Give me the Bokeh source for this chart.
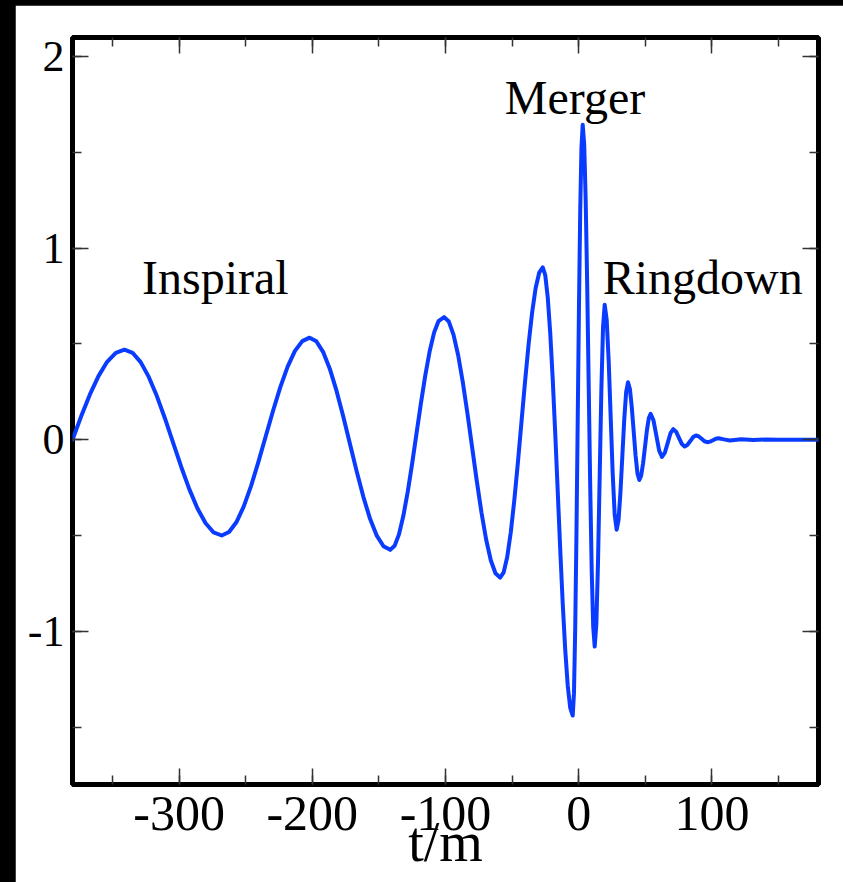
from bokeh.plotting import figure
from bokeh.models import LinearAxis, SingleIntervalTicker, Label, Range1d
from bokeh.layouts import column
from bokeh.embed import file_html
from bokeh.resources import INLINE

# Gravitational-wave strain h(t) of a binary black-hole coalescence, t in units of m
inspiral_t = [-380, -373.5, -367, -360.5, -354, -347.5, -341,
              -334.92, -328.83, -322.75, -316.67, -310.58, -304.5, -298.42, -292.33, -286.25, -280.17, -274.08, -268,
              -262.5, -257, -251.5, -246, -240.5, -235, -229.5, -224, -218.5, -213, -207.5, -202,
              -196.96, -191.92, -186.88, -181.83, -176.79, -171.75, -166.71, -161.67, -156.63, -151.58, -146.54, -141.5,
              -138.21, -134.92, -131.63, -128.33, -125.04, -121.75, -118.46, -115.17, -111.88, -108.58, -105.29, -101,
              -97.5, -94, -90.5, -87, -83.5, -80, -76.5, -73, -69.5, -66, -62.5, -59,
              -56.33, -53.67, -51, -48.33, -45.67, -43, -40.33, -37.67, -35, -32.33, -29.67, -27]
inspiral_h = [0, 0.122, 0.235, 0.332, 0.407, 0.454, 0.47,
              0.454, 0.405, 0.328, 0.228, 0.111, -0.015, -0.141, -0.258, -0.358, -0.435, -0.484, -0.50,
              -0.482, -0.431, -0.349, -0.242, -0.117, 0.017, 0.150, 0.275, 0.382, 0.464, 0.515, 0.533,
              0.514, 0.459, 0.371, 0.256, 0.122, -0.021, -0.164, -0.298, -0.413, -0.501, -0.556, -0.575,
              -0.554, -0.494, -0.397, -0.271, -0.125, 0.033, 0.190, 0.336, 0.462, 0.559, 0.619, 0.64,
              0.617, 0.549, 0.441, 0.30, 0.136, -0.04, -0.216, -0.38, -0.521, -0.629, -0.697, -0.72,
              -0.692, -0.612, -0.483, -0.315, -0.120, 0.09, 0.300, 0.495, 0.663, 0.792, 0.872, 0.90]

merger_t = [-25.125, -23.25, -21.375, -19.5, -17.625, -15.75, -13.875, -12, -10.125, -8.25, -6.375, -4.5,
            -3.56, -2.63, -1.69, -0.75, 0.19, 1.13, 2.06, 3,
            4.125, 5.25, 6.375, 7.5, 8.625, 9.75, 10.875, 12]
merger_h = [0.860, 0.743, 0.557, 0.315, 0.033, -0.27, -0.573, -0.855, -1.097, -1.283, -1.400, -1.44,
            -1.323, -0.988, -0.488, 0.103, 0.693, 1.193, 1.528, 1.645,
            1.541, 1.246, 0.804, 0.283, -0.239, -0.681, -0.976, -1.08]

ringdown_t = [13.25, 14.5, 15.75, 17, 18.25, 19.5, 21, 22.5, 24, 25.5, 27, 28.5,
              29.9, 31.3, 32.75, 34.2, 35.6, 37, 38.4, 39.8, 41.25, 42.7, 44.1, 45.5,
              46.9, 48.3, 49.75, 51.2, 52.6, 54, 56.1, 58.25, 60.4, 62.5, 64.6, 66.75,
              68.9, 71, 73.1, 75.25, 77.4, 79.5, 81.6, 83.75, 85.9, 88, 90.1, 92.25,
              94.4, 96.5, 98.6, 100.75, 102.9, 105, 109, 113.5, 122, 131, 140, 150, 165, 180]
ringdown_h = [-0.961, -0.634, -0.188, 0.259, 0.586, 0.705, 0.626, 0.411, 0.118, -0.176, -0.391, -0.47,
              -0.418, -0.278, -0.085, 0.108, 0.248, 0.30, 0.266, 0.173, 0.045, -0.083, -0.176, -0.21,
              -0.187, -0.124, -0.038, 0.049, 0.112, 0.135, 0.102, 0.023, -0.057, -0.09, -0.069, -0.018,
              0.034, 0.055, 0.042, 0.010, -0.022, -0.035, -0.027, -0.007, 0.014, 0.022, 0.017, 0.005,
              -0.008, -0.013, -0.010, -0.003, 0.005, 0.008, 0.002, -0.004, 0.003, -0.002, 0.001, 0, 0, 0]

# phase labels: (text, left edge in t/m, baseline in h)
phase_names = ["Inspiral", "Merger", "Ringdown"]
phase_x = [-327.8, -55.5, 18.0]
phase_y = [0.846, 1.786, 0.846]

x_ticks = [-300, -200, -100, 0, 100]
x_tick_labels = ["-300", "-200", "-100", "0", "100"]
y_ticks = [-1, 0, 1, 2]
y_tick_labels = ["-1", "0", "1", "2"]
x_title = "t/m"

SERIF = "Liberation Serif"

p = figure(width=828, height=877,
           x_range=Range1d(-380, 180), y_range=Range1d(-1.8, 2.1),
           output_backend="svg", toolbar_location=None,
           min_border_left=57, min_border_right=25,
           min_border_top=32, min_border_bottom=98)
p.margin = (5, 0, 0, 15)
p.background_fill_color = "white"
p.border_fill_color = "white"
p.grid.visible = False
p.outline_line_color = "black"
p.outline_line_width = 5

t_all = inspiral_t + merger_t + ringdown_t
h_all = inspiral_h + merger_h + ringdown_h
p.line(t_all, h_all, line_color="#0a3cff", line_width=4,
       line_join="round", line_cap="round")

# mirrored axes on the right and on top carry ticks only
p.add_layout(LinearAxis(), "right")
p.add_layout(LinearAxis(), "above")

for ax in p.xaxis:
    ax.ticker = SingleIntervalTicker(interval=100, num_minor_ticks=2)
for ax in p.yaxis:
    ax.ticker = SingleIntervalTicker(interval=1, num_minor_ticks=2)

for ax in p.xaxis + p.yaxis:
    ax.axis_line_color = None
    ax.major_tick_in = 16
    ax.major_tick_out = 0
    ax.minor_tick_in = 9
    ax.minor_tick_out = 0
    ax.major_tick_line_color = "#333333"
    ax.minor_tick_line_color = "#333333"
    ax.major_tick_line_width = 1.5
    ax.minor_tick_line_width = 1.5
    ax.major_label_text_font = SERIF
    ax.major_label_text_color = "black"

for ax in (p.right[0], p.above[0]):
    ax.major_label_text_color = None
    ax.major_label_text_font_size = "1px"
    ax.major_label_standoff = 0

xb = p.below[0]
xb.major_label_text_font_size = "50px"
xb.major_label_standoff = 12
xb.major_label_overrides = dict(zip(x_ticks, x_tick_labels))
xb.axis_label = x_title
xb.axis_label_text_font = SERIF
xb.axis_label_text_font_style = "normal"
xb.axis_label_text_font_size = "56px"
xb.axis_label_text_color = "black"
xb.axis_label_standoff = -22

yl = p.left[0]
yl.major_label_text_font_size = "44px"
yl.major_label_standoff = 8
yl.major_label_overrides = dict(zip(y_ticks, y_tick_labels))

for name, x, y in zip(phase_names, phase_x, phase_y):
    p.add_layout(Label(x=x, y=y, text=name, text_font=SERIF, text_font_size="48px",
                       text_color="black", text_align="left", text_baseline="alphabetic"))

page = column(p, width=843, height=882, styles={"background-color": "black"})

open("out.html", "w").write(file_html(page, INLINE))
